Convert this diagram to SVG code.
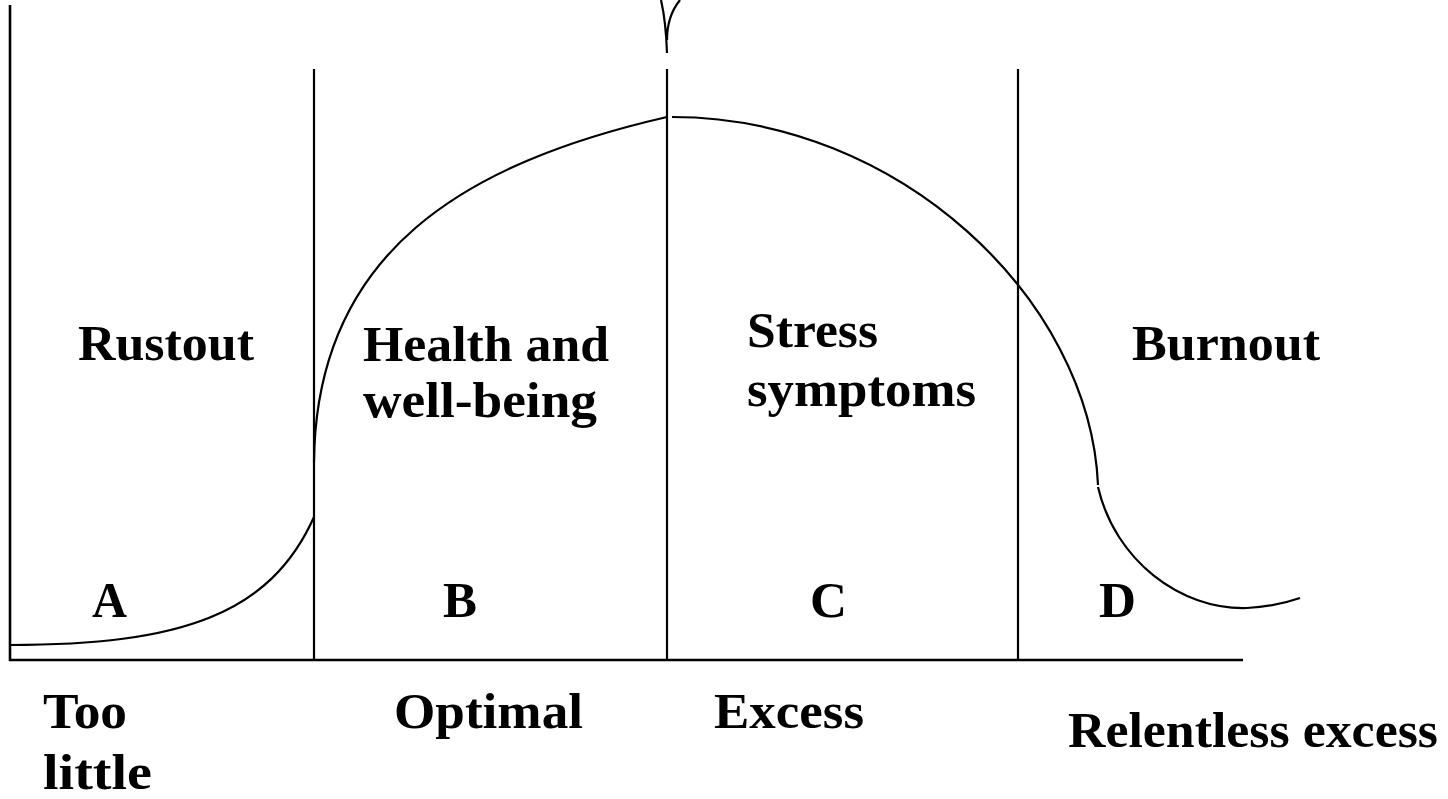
<svg xmlns="http://www.w3.org/2000/svg" width="1448" height="799" viewBox="0 0 1448 799">
<style>
.ln{fill:none;stroke:#000;stroke-width:2.2;stroke-linecap:butt}
.ax{fill:none;stroke:#000;stroke-width:2.6}
.t{font-family:"Liberation Serif","Times New Roman",serif;font-weight:bold;font-size:51px;fill:#000}
</style>
<rect width="1448" height="799" fill="#fff"/>
<g id="axes">
<path class="ax" d="M10,5 V660 H1243"/>
</g>
<g id="dividers">
<path class="ln" d="M314,69 V660 M667,69 V660 M1018,69 V660"/>
<path class="ln" d="M661,0 Q666,22 667,53 M680,0 Q667,16 667,40"/>
</g>
<g id="curves">
<path class="ln" d="M10,645 C180,645 270,615 314,517"/>
<path class="ln" d="M314,462 C316,250 467,163 667,117"/>
<path class="ln" d="M672,117 C900,117 1090,300 1098,485"/>
<path class="ln" d="M1098,487 C1115,560 1180,610 1247,608 C1265,607 1283,604 1300,598"/>
</g>
<g id="labels">
<text class="t" x="78" y="360" textLength="176" lengthAdjust="spacingAndGlyphs">Rustout</text>
<text class="t" x="363" y="361" textLength="246" lengthAdjust="spacingAndGlyphs">Health and</text>
<text class="t" x="363" y="417" textLength="234" lengthAdjust="spacingAndGlyphs">well-being</text>
<text class="t" x="747" y="347" textLength="131" lengthAdjust="spacingAndGlyphs">Stress</text>
<text class="t" x="747" y="406" textLength="229" lengthAdjust="spacingAndGlyphs">symptoms</text>
<text class="t" x="1132" y="360" textLength="188" lengthAdjust="spacingAndGlyphs">Burnout</text>
<text class="t" x="92" y="617" textLength="35" lengthAdjust="spacingAndGlyphs">A</text>
<text class="t" x="443" y="617" textLength="34" lengthAdjust="spacingAndGlyphs">B</text>
<text class="t" x="810" y="617" textLength="37" lengthAdjust="spacingAndGlyphs">C</text>
<text class="t" x="1099" y="617" textLength="37" lengthAdjust="spacingAndGlyphs">D</text>
<text class="t" x="43" y="728" textLength="84" lengthAdjust="spacingAndGlyphs">Too</text>
<text class="t" x="43" y="789" textLength="109" lengthAdjust="spacingAndGlyphs">little</text>
<text class="t" x="394" y="728" textLength="189" lengthAdjust="spacingAndGlyphs">Optimal</text>
<text class="t" x="714" y="728" textLength="150" lengthAdjust="spacingAndGlyphs">Excess</text>
<text class="t" x="1068" y="747" textLength="370" lengthAdjust="spacingAndGlyphs">Relentless excess</text>
</g>
</svg>
